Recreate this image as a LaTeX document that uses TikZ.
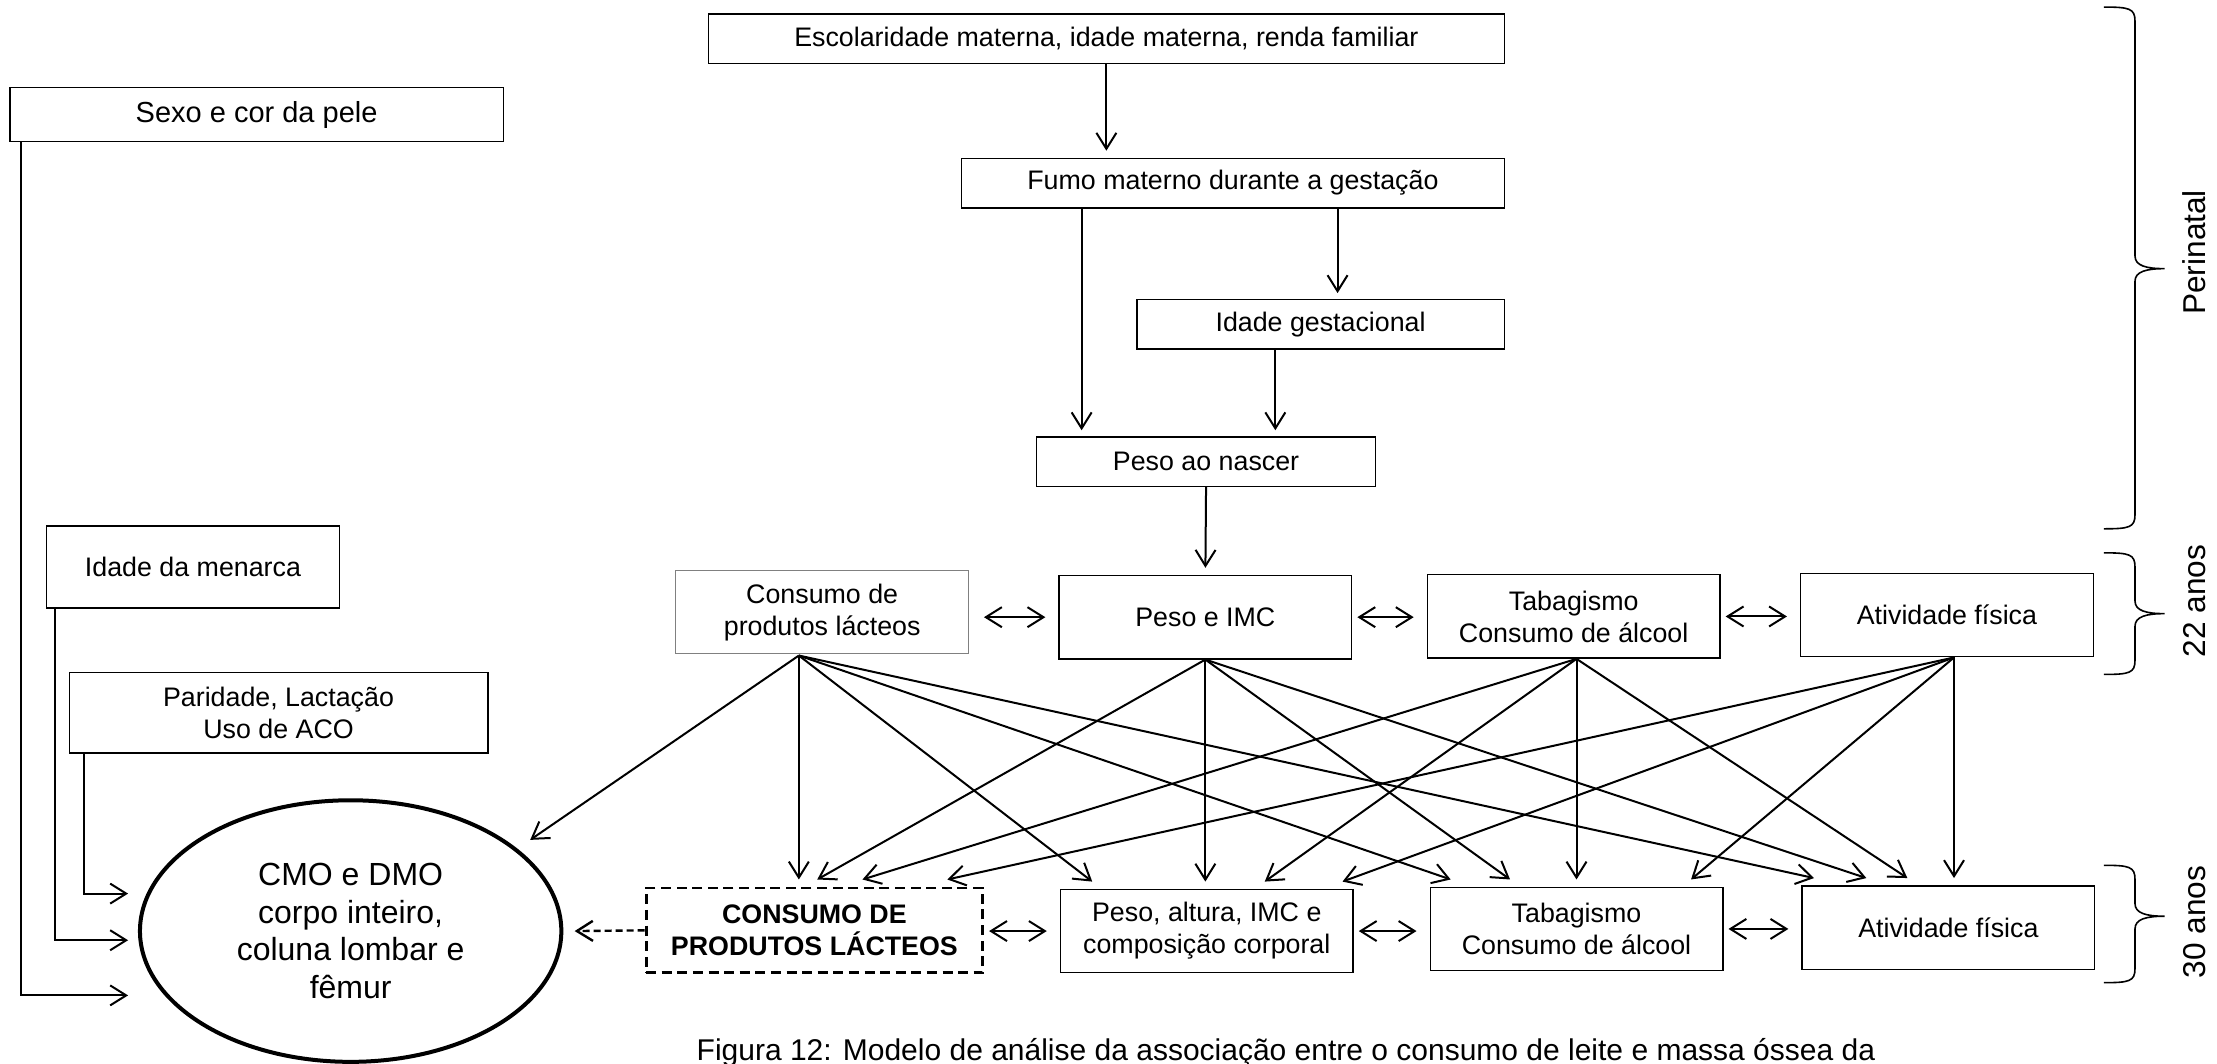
\documentclass[tikz,border=0pt]{standalone}
\usepackage{fontspec}
\setmainfont{Liberation Sans}
\usetikzlibrary{positioning,arrows.meta,calc,shapes.geometric}

\tikzset{
 caixa/.style={draw, line width=0.7pt, align=center, inner sep=0pt, font=\fontsize{13.4}{16}\selectfont},
 seta/.style={-{Straight Barb[length=8pt,width=10pt]}, line width=1pt},
 dupla/.style={{Straight Barb[length=8pt,width=10pt]}-{Straight Barb[length=8pt,width=10pt]}, line width=1pt, shorten <=2.5pt, shorten >=6.5pt},
 rotulo/.style={rotate=90, font=\fontsize{15.8}{19}\selectfont},
}

\begin{document}
\begin{tikzpicture}[x=0.707pt,y=-0.707pt]
 \useasboundingbox (0,0) rectangle (1568,752);
 % perinatal
 \node[caixa, minimum width=398pt, minimum height=24.7pt] (esc) at (782.5,27.5) {Escolaridade materna, idade materna, renda familiar};
 \node[caixa, minimum width=271.5pt, minimum height=24.7pt] (fumo) at (872,129.5) {Fumo materno durante a gesta\c{c}\~ao};
 \node[caixa, minimum width=183.8pt, minimum height=24.7pt] (idg) at (934,229.5) {Idade gestacional};
 \node[caixa, minimum width=169.7pt, minimum height=24.7pt] (pnas) at (853,326.5) {Peso ao nascer};
 % confundidores
 \node[caixa, minimum width=246.7pt, minimum height=26.9pt, font=\fontsize{14.5}{17}\selectfont] (sexo) at (181.5,81) {Sexo e cor da pele};
 \node[caixa, minimum width=146.3pt, minimum height=41pt] (menarca) at (136.5,401) {Idade da menarca};
 \node[caixa, minimum width=209.3pt, minimum height=40.3pt] (parid) at (197,504) {Paridade, Lacta\c{c}\~ao\\Uso de ACO};
 % 22 anos
 \node[caixa, draw=gray, line width=0.5pt, minimum width=146.3pt, minimum height=41.4pt] (lact22) at (581.5,433) {Consumo de\\produtos l\'acteos};
 \node[caixa, minimum width=146.3pt, minimum height=41.7pt] (imc22) at (852.5,436.5) {Peso e IMC};
 \node[caixa, minimum width=146.3pt, minimum height=41.7pt] (tab22) at (1113,436) {Tabagismo\\Consumo de \'alcool};
 \node[caixa, minimum width=146.3pt, minimum height=41.7pt] (ativ22) at (1377,435) {Atividade f\'isica};
 % 30 anos
 \node[caixa, dash pattern=on 5pt off 2.8pt, line width=1.4pt, minimum width=168.3pt, minimum height=42.4pt, font=\fontsize{13.4}{16}\selectfont\bfseries] (lact30) at (576,658) {CONSUMO DE\\PRODUTOS L\'ACTEOS};
 \node[caixa, minimum width=146.3pt, minimum height=41.7pt] (imc30) at (853.5,658.5) {Peso, altura, IMC e\\composi\c{c}\~ao corporal};
 \node[caixa, minimum width=146.3pt, minimum height=41.7pt] (tab30) at (1115,657) {Tabagismo\\Consumo de \'alcool};
 \node[caixa, minimum width=146.3pt, minimum height=41.7pt] (ativ30) at (1378,656) {Atividade f\'isica};
 % desfecho
 \node[draw, ellipse, line width=2pt, inner sep=0pt, minimum width=210.7pt, minimum height=130.8pt, align=center, font=\fontsize{16}{18.8}\selectfont] (dmo) at (248,658.5) {CMO e DMO\\corpo inteiro,\\coluna lombar e\\f\^emur};

 % setas do periodo perinatal
 \draw[seta, shorten >=3.5pt] (esc.south) -- (esc.south |- fumo.north);
 \draw[seta, shorten >=3pt] ($(fumo.south)+(74,0)$) -- ($(idg.north)+(12,0)$);
 \draw[seta, shorten >=3pt] ($(fumo.south)+(-107,0)$) -- ($(pnas.north)+(-88,0)$);
 \draw[seta, shorten >=3pt] ($(idg.south)+(-32,0)$) -- ($(pnas.north)+(49,0)$);
 \draw[seta, shorten >=3.5pt] (pnas.south) -- (imc22.north);

 % confundidores ate o desfecho
 \draw[seta] ($(sexo.south west)+(8.5,0)$) |- ($(dmo.west)+(-7,45.5)$);
 \draw[seta] ($(menarca.south west)+(6.5,0)$) |- ($(dmo.west)+(-7,6.5)$);
 \draw[seta] ($(parid.south west)+(11,0)$) |- ($(dmo.west)+(-7,-26.5)$);

 % setas duplas
 \draw[dupla, shorten <=7.5pt] (lact22.east |- imc22.west) -- (imc22.west);
 \draw[dupla] (imc22.east) -- (imc22.east -| tab22.west);
 \draw[dupla] (tab22.east) -- (tab22.east -| ativ22.west);
 \draw[dupla] (lact30.east |- imc30.west) -- (imc30.west);
 \draw[dupla] (imc30.east) -- (imc30.east -| tab30.west);
 \draw[dupla] (tab30.east) -- (tab30.east -| ativ30.west);

 % 22 anos -> 30 anos
 \coordinate (o1) at ($(lact22.south)+(-16.5,1)$);
 \coordinate (o2) at (imc22.south);
 \coordinate (o3) at ($(tab22.south)+(2,0)$);
 \coordinate (o4) at ($(ativ22.south)+(5,0)$);
 \foreach \o/\d/\dx in {o1/lact30/-11, o1/imc30/-81, o1/tab30/-89, o1/ativ30/-95,
   o2/lact30/2, o2/imc30/-1, o2/tab30/-47, o2/ativ30/-58,
   o3/lact30/34, o3/imc30/41, o3/tab30/0, o3/ativ30/-29,
   o4/lact30/94, o4/imc30/96, o4/tab30/81, o4/ativ30/4}
  \draw[seta] (\o) -- ($(\d.north)+(\dx,-5)$);
 \draw[seta] (o1) -- ($(dmo.center)+(127,-64.5)$);
 \draw[seta, line width=1.2pt, dash pattern=on 3.5pt off 2pt] (lact30.west) -- ($(dmo.east)+(8,0)$);

 % chaves
 \foreach \ya/\yb/\yc in {5/190/374, 391/434/477, 612/648/695}
  \draw[line width=0.8pt] (1488,\ya) .. controls (1506,\ya) and (1510,\ya+1) .. (1510,\ya+10) -- (1510,\yb-9)
   .. controls (1510,\yb-2) and (1518,\yb) .. (1531,\yb) .. controls (1518,\yb) and (1510,\yb+2) .. (1510,\yb+9)
   -- (1510,\yc-10) .. controls (1510,\yc-1) and (1506,\yc) .. (1488,\yc);
 \node[rotulo] (lperi) at (1552,178.5) {Perinatal};
 \node[rotulo] (l22) at (1552,425) {22 anos};
 \node[rotulo] (l30) at (1552,652) {30 anos};

 \node[anchor=base, font=\fontsize{15}{18}\selectfont] (legenda) at (909.5,750) {Figura 12: Modelo de an\'alise da associa\c{c}\~ao entre o consumo de leite e massa \'ossea da};
\end{tikzpicture}
\end{document}
